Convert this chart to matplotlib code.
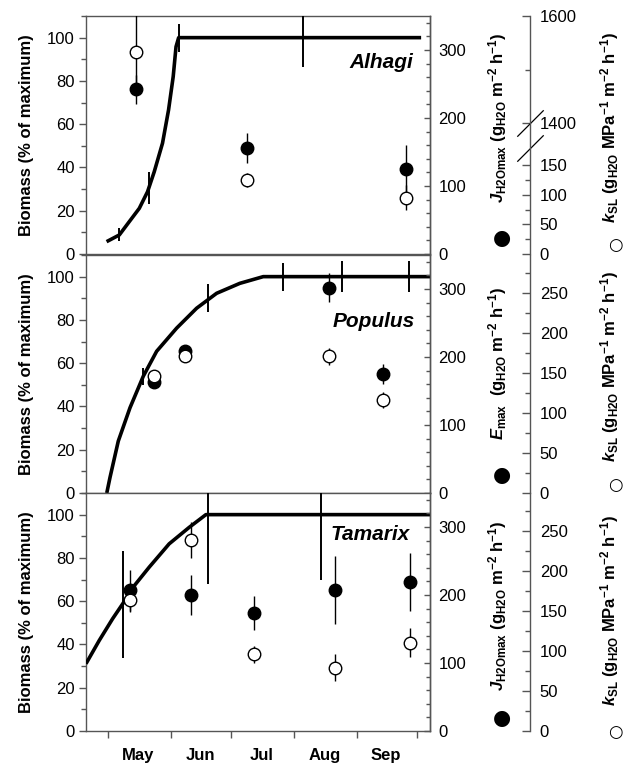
import numpy as np
import matplotlib
matplotlib.use('Agg')
import matplotlib.pyplot as plt
import matplotlib.transforms as mtransforms
from matplotlib.ticker import MultipleLocator, FixedLocator, NullFormatter

plt.rcParams['font.family'] = ['Liberation Sans', 'DejaVu Sans']
plt.rcParams['font.size'] = 12
plt.rcParams['mathtext.fontset'] = 'custom'
plt.rcParams['mathtext.rm'] = 'Liberation Sans:bold'
plt.rcParams['mathtext.it'] = 'Liberation Sans:italic:bold'
plt.rcParams['mathtext.bf'] = 'Liberation Sans:bold'

#%% Data (x = day of year)
month_start = [121, 152, 182, 213, 244, 274]
month_mid   = [136, 166.5, 197, 228, 258.5]
month_names = ['May', 'Jun', 'Jul', 'Aug', 'Sep']

# Alhagi
alh_curve_doy = [120.2, 126.5, 131.4, 136.4, 140.5, 143.8, 147.9, 150.9, 153.2, 154.6, 155.9, 217.3, 276]
alh_curve_bio = [5.7, 8.8, 14.9, 21.1, 28.8, 38.0, 51.2, 66.6, 82.0, 95.8, 100, 100, 100]
alh_err_doy   = [126.5, 141.0, 156.3, 217.3]
alh_err_bio   = [8.8, 30.5, 100, 100]
alh_err_sd    = [3, 7.5, 6.5, 13.4]
alh_dot_doy   = [134.8, 189.9, 268.3]
alh_j         = [242, 156, 124.6]
alh_j_sd      = [21, 22, 35]
alh_k         = [1533, 125, 95]
alh_k_sd      = [75, 12, 21]

# Populus
pop_curve_doy = [120.3, 121.9, 126.0, 131.8, 138.4, 145.0, 154.9, 164.8, 174.7, 186.2, 197.8, 281]
pop_curve_bio = [0, 7.2, 24.0, 39.4, 54.0, 65.5, 76.2, 85.4, 92.3, 96.9, 100, 100]
pop_err_doy   = [138.4, 170.2, 207.4, 237.0, 270.1]
pop_err_bio   = [54, 90, 100, 100, 100]
pop_err_sd    = [4, 6.5, 6.5, 7, 7]
pop_dot_doy   = [143.8, 159.2, 230.5, 257.2]
pop_e         = [163.7, 208.6, 302, 174.6]
pop_e_sd      = [8, 7, 21, 15]
pop_k         = [146, 172, 171, 116]
pop_k_sd      = [7, 7, 11, 10]

# Tamarix
tam_curve_doy = [110, 116.6, 123.2, 128.2, 133.1, 141.3, 151.2, 161.1, 169.4, 281]
tam_curve_bio = [31.1, 41.9, 51.9, 58.8, 66.2, 75.7, 86.5, 94.1, 100, 100]
tam_err_doy   = [128.2, 170.2, 226.3]
tam_err_bio   = [58.5, 100, 100]
tam_err_sd    = [24.8, 32, 30]
tam_dot_doy   = [131.9, 162.1, 193.2, 233.3, 270.4]
tam_j         = [206.7, 199.9, 173.1, 207.2, 219.3]
tam_j_sd      = [30, 29, 25, 50, 42.5]
tam_k         = [164.6, 239, 95.8, 79.4, 110.5]
tam_k_sd      = [15, 23, 11, 17, 18]

#%% Broken scale for the Alhagi k_SL axis
KB0, KB1 = 179., 1400.
S0, S1   = 0.593, 0.5365
H0, H1   = KB0*S0, 130.7

def brk_fwd(v):
    v = np.asarray(v, float)
    return np.where(v <= KB0, v*S0,
           np.where(v >= KB1, H1 + (v - KB1)*S1, H0 + (v - KB0)*(H1 - H0)/(KB1 - KB0)))

def brk_inv(h):
    h = np.asarray(h, float)
    return np.where(h <= H0, h/S0,
           np.where(h >= H1, KB1 + (h - H1)/S1, KB0 + (h - H0)*(KB1 - KB0)/(H1 - H0)))

#%% Labels
gray   = '#555555'
lab_kw = dict(fontsize=12, fontweight='bold')
j_lab  = '$\\mathit{J}_{\\mathrm{H2Omax}}$ (g$_{\\mathrm{H2O}}$ m$^{\\mathrm{-2}}$ h$^{\\mathrm{-1}}$)'
e_lab  = '$\\mathit{E}_{\\mathrm{max}}$  (g$_{\\mathrm{H2O}}$ m$^{\\mathrm{-2}}$ h$^{\\mathrm{-1}}$)'
k_lab  = '$\\mathit{k}_{\\mathrm{SL}}$ (g$_{\\mathrm{H2O}}$ MPa$^{\\mathrm{-1}}$ m$^{\\mathrm{-2}}$ h$^{\\mathrm{-1}}$)'

# label centres and legend-symbol positions (axes fractions) per panel
j_lab_y   = [0.571, 0.542, 0.525]
k_lab_y   = [0.530, 0.532, 0.504]
j_sym_y   = [0.067, 0.076, 0.053]
k_sym_y   = [0.038, 0.034, -0.003]
name_x    = [0.951, 0.956, 0.942]

fig = plt.figure(figsize=(6.24, 7.66), dpi=100)
L, W, H = 0.1378, 0.5513, 0.3107
bottoms = [0.6684, 0.3564, 0.0457]

panels = [
    ('Alhagi',  0.780, alh_curve_doy, alh_curve_bio, alh_err_doy, alh_err_bio, alh_err_sd,
     alh_dot_doy, alh_j, alh_j_sd, alh_k, alh_k_sd, j_lab),
    ('Populus', 0.699, pop_curve_doy, pop_curve_bio, pop_err_doy, pop_err_bio, pop_err_sd,
     pop_dot_doy, pop_e, pop_e_sd, pop_k, pop_k_sd, e_lab),
    ('Tamarix', 0.803, tam_curve_doy, tam_curve_bio, tam_err_doy, tam_err_bio, tam_err_sd,
     tam_dot_doy, tam_j, tam_j_sd, tam_k, tam_k_sd, j_lab),
]

for i, (name, name_y, cdoy, cbio, edoy, ebio, esd, ddoy, jv, jsd, kv, ksd, jlabel) in enumerate(panels):
    ax = fig.add_axes([L, bottoms[i], W, H])
    ax2 = ax.twinx()
    ax3 = ax.twinx()

    # biomass
    ax.plot(cdoy, cbio, 'k-', lw=2.6, solid_capstyle='butt', solid_joinstyle='round', zorder=3)
    ax.errorbar(edoy, ebio, yerr=esd, fmt='none', ecolor='k', elinewidth=1.4, capsize=0, zorder=3)
    ax.set_xlim(110, 280.4)
    ax.set_ylim(0, 110)
    ax.yaxis.set_major_locator(MultipleLocator(20))
    ax.yaxis.set_minor_locator(MultipleLocator(10))
    ax.set_ylabel('Biomass (% of maximum)', **lab_kw)
    ax.yaxis.set_label_coords(-0.151, 0.5)
    ax.text(name_x[i], name_y, name, transform=ax.transAxes,
            ha='right', va='baseline', fontsize=15, fontstyle='italic', fontweight='bold')

    # J / E
    ax2.errorbar(ddoy, jv, yerr=jsd, fmt='o', color='k', mfc='k', mec='k', ms=9,
                 elinewidth=1, capsize=0)
    ax2.set_ylim(0, 350)
    ax2.yaxis.set_major_locator(MultipleLocator(100))
    ax2.yaxis.set_minor_locator(MultipleLocator(20))
    ax2.set_ylabel(jlabel, **lab_kw)
    ax2.yaxis.set_label_coords(1.164, j_lab_y[i])
    ax2.text(1.209, j_sym_y[i], '\u25cf', transform=ax.transAxes, ha='center', va='center',
             fontsize=15, family=['DejaVu Sans'])

    # k_SL
    ax3.spines['right'].set_position(('axes', 1.291))
    ax3.errorbar(ddoy, kv, yerr=ksd, fmt='o', mfc='white', mec='k', ecolor='k', ms=9,
                 mew=1, elinewidth=1, capsize=0)
    if i == 0:
        ax3.set_yscale('function', functions=(brk_fwd, brk_inv))
        ax3.set_ylim(0, 1600)
        ax3.yaxis.set_major_locator(FixedLocator([0, 50, 100, 150, 1400, 1600]))
        ax3.yaxis.set_minor_locator(FixedLocator([25, 75, 125, 1500]))
        ax3.yaxis.set_minor_formatter(NullFormatter())
        ax3.yaxis.set_major_formatter(plt.FuncFormatter(lambda v, p: f'{v:.0f}'))
        tr = mtransforms.blended_transform_factory(ax3.transAxes, ax3.transData)
        ax3.plot([1.291, 1.291], [KB0, KB1], transform=tr, ls='none',
                 marker=[(-1, -1), (1, 1)], ms=19, mec='k', mew=0.9, clip_on=False)
    else:
        ax3.set_ylim(0, 298)
        ax3.yaxis.set_major_locator(MultipleLocator(50))
        ax3.yaxis.set_minor_locator(MultipleLocator(25))
    ax3.set_ylabel(k_lab, **lab_kw)
    ax3.yaxis.set_label_coords(1.489, k_lab_y[i])
    ax3.text(1.54, k_sym_y[i], '\u25cb', transform=ax.transAxes, ha='center', va='center',
             fontsize=12, family=['DejaVu Sans'])

    for a in (ax2, ax3):
        for s in ('top', 'bottom', 'left'):
            a.spines[s].set_visible(False)
    for a in (ax, ax2, ax3):
        for s in a.spines.values():
            s.set_color(gray)
            s.set_linewidth(1)

    ax.tick_params(axis='y', which='major', direction='out', length=5, width=1, color=gray, pad=3)
    ax.tick_params(axis='y', which='minor', direction='out', length=3.5, width=1, color=gray)
    ax2.tick_params(axis='y', which='major', direction='in', length=4, width=1, color=gray, pad=6)
    ax2.tick_params(axis='y', which='minor', direction='in', length=3, width=1, color=gray)
    ax3.tick_params(axis='y', which='major', direction='in', length=6, width=1, color=gray, pad=7)
    ax3.tick_params(axis='y', which='minor', direction='in', length=3.5, width=1, color=gray)

    if i < 2:
        ax.tick_params(axis='x', which='both', bottom=False, labelbottom=False)
    else:
        ax.xaxis.set_major_locator(FixedLocator(month_start))
        ax.xaxis.set_major_formatter(NullFormatter())
        ax.xaxis.set_minor_locator(FixedLocator(month_mid))
        ax.set_xticklabels(month_names, minor=True, fontweight='bold')
        ax.tick_params(axis='x', which='major', direction='out', length=5, width=1, color=gray)
        ax.tick_params(axis='x', which='minor', length=0, pad=12)

fig.savefig('out.png', dpi=100)
